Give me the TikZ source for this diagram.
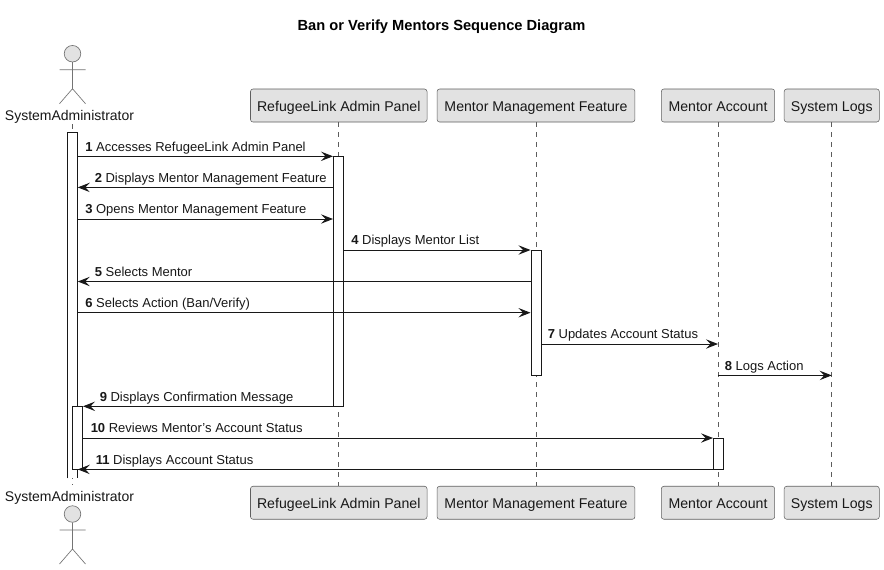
\documentclass[tikz,border=0pt]{standalone}
\usepackage{fontspec}
\setmainfont{Liberation Sans}
\usetikzlibrary{arrows.meta}
\definecolor{ink}{HTML}{181818}
\definecolor{boxfill}{HTML}{E2E2E2}
\definecolor{boxline}{HTML}{5F5F5F}
\tikzset{
  part/.style={draw=boxline,fill=boxfill,rounded corners=1.9pt,line width=.4pt,minimum height=24.75pt,inner sep=0pt,font=\fontsize{10.6}{12}\selectfont,text=ink,text height=11.4pt,text depth=2.25pt},
  alabel/.style={inner sep=0pt,font=\fontsize{10.5}{12}\selectfont,text=ink,text height=7.7pt,text depth=2.3pt},
  life/.style={draw=ink!70,line width=.4pt,dash pattern=on 3.75pt off 3.75pt},
  actorline/.style={draw=ink!60,line width=.5pt},
  actorhead/.style={draw=ink!60,fill=boxfill,line width=.5pt},
  bar/.style={draw=ink,fill=white,line width=.75pt,inner sep=0pt,minimum width=7.5pt},
  openbar/.style={fill=white,inner sep=0pt,minimum width=7.5pt},
  barline/.style={draw=ink,line width=.75pt},
  msg/.style={draw=ink,line width=.75pt,-{Stealth[length=9pt,width=7pt,inset=3.4pt]}},
  mtext/.style={anchor=base west,inner sep=0pt,font=\fontsize{9.75}{11}\selectfont,text=ink}
}
\newcommand{\stick}[2]{% x, head-centre y
  \draw[actorhead] (#1,#2) circle (6.2pt);
  \draw[actorline] (#1,#2+8.5) -- (#1,#2+35) (#1-13,#2+16) -- (#1+13,#2+16)
    (#1-13,#2+50) -- (#1,#2+35) -- (#1+13,#2+50);
}
\begin{document}
\begin{tikzpicture}[x=.75pt,y=-.75pt]
\useasboundingbox (0,0) rectangle (884,569);
\fill[white] (0,0) rectangle (884,569);
\node[inner sep=0pt,font=\bfseries\fontsize{11}{12}\selectfont,text=black,text height=8pt,text depth=2.3pt] (title) at (441.5,27) {Ban or Verify Mentors Sequence Diagram};

% participants
\node[alabel] (sa) at (69.5,116.4) {SystemAdministrator};
\node[alabel] (sab) at (69.5,498.1) {SystemAdministrator};
\node[part,minimum width=132.4pt] (rp) at (338.75,105.5) {RefugeeLink Admin Panel};
\node[part,minimum width=148.4pt] (mm) at (536,105.5) {Mentor Management Feature};
\node[part,minimum width=85pt] (ma) at (718,105.5) {Mentor Account};
\node[part,minimum width=71.3pt] (sl) at (831.75,105.5) {System Logs};
\node[part,minimum width=132.4pt] (rpb) at (338.75,502.75) {RefugeeLink Admin Panel};
\node[part,minimum width=148.4pt] (mmb) at (536,502.75) {Mentor Management Feature};
\node[part,minimum width=85pt] (mab) at (718,502.75) {Mentor Account};
\node[part,minimum width=71.3pt] (slb) at (831.75,502.75) {System Logs};
\stick{72.5}{53.7}
\stick{72.5}{514}

% lifelines
\coordinate (satop) at (72.5,124);
\coordinate (sabot) at (72.5,485);
\draw[life] (satop) -- (sabot);
\draw[life] (rp.south) -- (rpb.north);
\draw[life] (mm.south) -- (mmb.north);
\draw[life] (ma.south) -- (mab.north);
\draw[life] (sl.south) -- (slb.north);

% activation bars
\node[openbar,minimum height=258.75pt] (b1) at (72.5,305.5) {};
\draw[barline] (b1.south west) -- (b1.north west) -- (b1.north east) -- (b1.south east);
\node[bar,minimum height=187.5pt] (b2) at (338.5,281) {};
\node[bar,minimum height=94.1pt] (b3) at (536,312.75) {};
\node[bar,minimum height=47.6pt] (b4) at (77.5,437.75) {};
\node[bar,minimum height=23.6pt] (b5) at (718.5,453.75) {};

% message levels
\foreach \n/\y in {1/156.3,2/187.4,3/219,4/250,5/281.5,6/312.7,7/344,8/375.4,9/406.3,10/438,11/469.4}
  \coordinate (m\n) at (0,\y);

% messages
\draw[msg] (b1.east |- m1) -- (b2.west |- m1);
\draw[msg] (b2.west |- m2) -- (b1.east |- m2);
\draw[msg] (b1.east |- m3) -- (b2.west |- m3);
\draw[msg] (b2.east |- m4) -- (b3.west |- m4);
\draw[msg] (b3.west |- m5) -- (b1.east |- m5);
\draw[msg] (b1.east |- m6) -- (b3.west |- m6);
\draw[msg] (b3.east |- m7) -- (ma.south |- m7);
\draw[msg] (ma.south |- m8) -- (sl.south |- m8);
\draw[msg] (b2.west |- m9) -- (b4.east |- m9);
\draw[msg] (b4.east |- m10) -- (b5.west |- m10);
\draw[msg] (b5.west |- m11) -- (b1.east |- m11);

% message labels
\node[mtext] (t1) at (85,151) {\textbf{1} Accesses RefugeeLink Admin Panel};
\node[mtext] (t2) at (94.5,182.1) {\textbf{2} Displays Mentor Management Feature};
\node[mtext] (t3) at (85,213.7) {\textbf{3} Opens Mentor Management Feature};
\node[mtext] (t4) at (351,244.7) {\textbf{4} Displays Mentor List};
\node[mtext] (t5) at (94.5,276.2) {\textbf{5} Selects Mentor};
\node[mtext] (t6) at (85,307.4) {\textbf{6} Selects Action (Ban/Verify)};
\node[mtext] (t7) at (547.5,338.7) {\textbf{7} Updates Account Status};
\node[mtext] (t8) at (724.5,370.1) {\textbf{8} Logs Action};
\node[mtext] (t9) at (99.5,401) {\textbf{9} Displays Confirmation Message};
\node[mtext] (t10) at (90.5,432.7) {\textbf{10} Reviews Mentor's Account Status};
\node[mtext] (t11) at (95.5,464.1) {\textbf{11} Displays Account Status};
\end{tikzpicture}
\end{document}
